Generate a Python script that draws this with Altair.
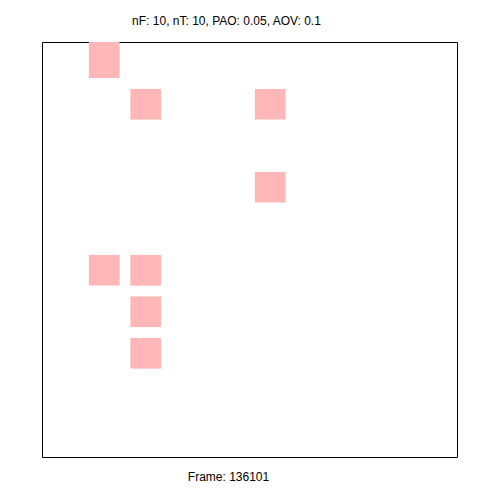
import altair as alt
import pandas as pd
import numpy as np

# grid cells that are "on" (column index, row index from top)
cols = [1, 2, 5, 5, 1, 2, 2, 2]
rows = [0, 1, 1, 3, 5, 5, 6, 7]
n_cells = 10
title_text = "nF: 10, nT: 10, PAO: 0.05, AOV: 0.1"
footer_text = "Frame: 136101"

c = np.array(cols, dtype=float)
r = np.array(rows, dtype=float)
df = pd.DataFrame({
    "x": c + 0.13,
    "x2": c + 0.87,
    "y": np.where(r == 0, r - 0.2, r + 0.13),
    "y2": r + 0.87,
})

chart = alt.Chart(df).mark_rect(color="#ffb6b6", clip=True).encode(
    x=alt.X("x:Q", scale=alt.Scale(domain=[0, n_cells], nice=False, zero=False),
            axis=alt.Axis(labels=False, ticks=False, domain=False, grid=False,
                          title=footer_text, titleFont="Liberation Sans",
                          titleFontSize=12, titleFontWeight="normal",
                          titlePadding=14, titleColor="black", titleX=186, titleAlign="center")),
    x2="x2:Q",
    y=alt.Y("y:Q", scale=alt.Scale(domain=[0, n_cells], nice=False, zero=False, reverse=True),
            axis=None),
    y2="y2:Q",
).properties(
    width=415, height=415,
    title=alt.TitleParams(title_text, font="Liberation Sans", fontSize=12,
                          fontWeight="normal", color="black", anchor="middle",
                          dx=-23, offset=14),
    padding={"left": 42, "top": 42, "right": 43, "bottom": 43},
    autosize="none",
    background="white",
).configure_view(stroke="black", strokeWidth=1)

chart.save("out.html", embed_options={"renderer": "svg", "actions": False})
